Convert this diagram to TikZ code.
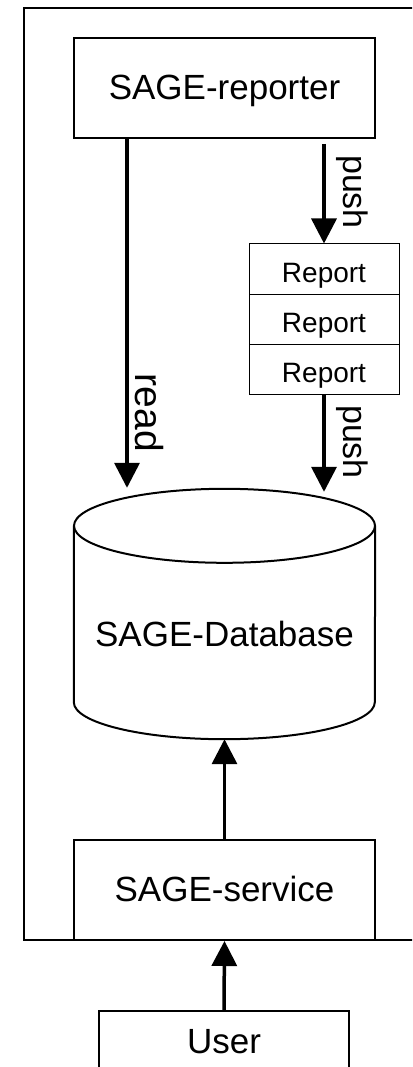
\documentclass[tikz,border=0pt]{standalone}
\usepackage{fontspec}
\setmainfont{Liberation Sans}
\usetikzlibrary{arrows.meta}
\begin{document}
\begin{tikzpicture}[x=1pt,y=1pt,
  box/.style={draw, line width=2pt, minimum width=301pt, minimum height=100pt,
    inner sep=0pt, text height=23pt, text depth=0pt, font=\fontsize{35}{40}\selectfont},
  cell/.style={draw, line width=1pt, minimum width=150pt, minimum height=50pt,
    inner sep=0pt, text height=26pt, text depth=0pt, font=\fontsize{28}{32}\selectfont},
  flow/.style={line width=3.5pt, -{Triangle[length=25pt,width=25pt]}},
  lbl/.style={rotate=-90, inner sep=0pt, anchor=center}]
\clip (0,0) rectangle (412,-1067);
\fill[white] (0,0) rectangle (412,-1067);

% system boundary
\draw[line width=2pt] (420,-8) -- (24,-8) -- (24,-940) -- (420,-940);

% components
\node[box] (rep) at (224.5,-88) {SAGE-reporter};
\node[cell] (r1) at (324,-269) {Report};
\node[cell] (r2) at (324,-319) {Report};
\node[cell] (r3) at (324,-369) {Report};

% database cylinder
\node[minimum width=301pt, minimum height=250pt, inner sep=0pt] (db) at (224.5,-614) {};
\node[anchor=base, inner sep=0pt, font=\fontsize{35}{40}\selectfont] (dblabel) at (224.5,-646) {SAGE-Database};
\draw[line width=2pt, fill=white] ([yshift=-37pt]db.north) ellipse [x radius=150.5pt, y radius=37pt];
\draw[line width=2pt] ([yshift=-37pt]db.north west) -- ([yshift=37pt]db.south west)
  arc[start angle=180, end angle=360, x radius=150.5pt, y radius=37pt]
  -- ([yshift=-37pt]db.north east);

\node[box] (svc) at (224.5,-890) {SAGE-service};
\node[draw, line width=2pt, minimum width=250pt, anchor=north, inner xsep=0pt, inner ysep=15pt,
  text height=27pt, text depth=60pt, font=\fontsize{35}{40}\selectfont] (user) at (224,-1010) {User};

% edge labels
\node[lbl, font=\fontsize{39}{44}\selectfont] (readlbl) at (149,-413) {read};
\node[lbl, font=\fontsize{34}{40}\selectfont] (push1) at (352,-192) {push};
\node[lbl, font=\fontsize{34}{40}\selectfont] (push2) at (352,-442) {push};

% connectors
\draw[flow] ([xshift=-97.5pt]rep.south) -- ([xshift=-97.5pt,yshift=1pt]db.north);
\draw[flow] ([yshift=-5pt]rep.south -| r1.north) -- (r1.north);
\draw[flow] (r3.south) -- ([yshift=-3pt]r3.south |- db.north);
\draw[flow] (svc.north) -- (db.south);
\draw[flow] (user.north) -- (svc.south);
\end{tikzpicture}
\end{document}
